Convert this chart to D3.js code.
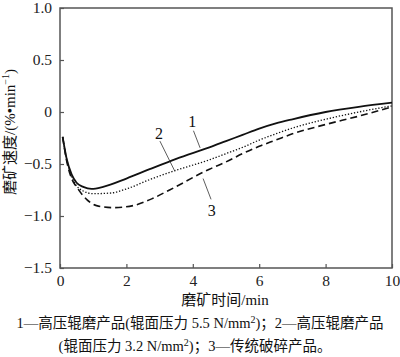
<!DOCTYPE html>
<html><head><meta charset="utf-8">
<script src="https://cdn.jsdelivr.net/npm/d3@7"></script>
<style>body{margin:0;background:#fff}svg{display:block}</style>
</head><body>
<svg id="c" width="400" height="357"></svg>
<script>
const xTicks = [0, 2, 4, 6, 8, 10];
const yTicks = [1.0, 0.5, 0, -0.5, -1.0, -1.5];
const yTickLabels = ["1.0", "0.5", "0", "\u22120.5", "\u22121.0", "\u22121.5"];
const series1 = [[0.08,-0.24],[0.2,-0.45],[0.35,-0.6],[0.5,-0.68],[0.7,-0.72],[0.95,-0.74],[1.3,-0.72],[2.0,-0.64],[2.7,-0.55],[3.5,-0.45],[4.5,-0.34],[5.0,-0.28],[5.5,-0.22],[6.0,-0.16],[6.5,-0.11],[7.0,-0.07],[8.0,0.0],[9.0,0.05],[10.0,0.09]];
const series2 = [[0.08,-0.24],[0.2,-0.45],[0.35,-0.62],[0.5,-0.71],[0.7,-0.76],[1.0,-0.785],[1.5,-0.78],[2.0,-0.74],[2.7,-0.65],[3.5,-0.56],[4.5,-0.46],[5.0,-0.40],[5.5,-0.34],[6.0,-0.27],[6.5,-0.21],[7.0,-0.155],[8.0,-0.07],[9.0,0.0],[10.0,0.06]];
const series3 = [[0.08,-0.24],[0.2,-0.47],[0.35,-0.64],[0.5,-0.72],[0.8,-0.84],[1.1,-0.9],[1.6,-0.92],[2.2,-0.9],[2.8,-0.83],[3.3,-0.75],[4.5,-0.55],[5.0,-0.48],[5.5,-0.40],[6.0,-0.33],[6.5,-0.27],[7.0,-0.21],[8.0,-0.12],[9.0,-0.04],[10.0,0.05]];
const seriesNames = ["1", "2", "3"];
const xLabel = "磨矿时间/min";
const yLabel = "磨矿速度/(%•min";
const caption1 = ["1—高压辊磨产品(辊面压力 5.5 N/mm", "2", ")；2—高压辊磨产品"];
const caption2 = ["(辊面压力 3.2 N/mm", "2", ")；3—传统破碎产品。"];

const font = "'Liberation Serif','Times New Roman','Noto Sans CJK SC',serif";
const svg = d3.select("#c");
const L = 60, R = 392, T = 8, B = 268;
const x = d3.scaleLinear().domain([0, 10]).range([L, R]);
const y = d3.scaleLinear().domain([-1.5, 1.0]).range([B, T]);

// frame
svg.append("rect").attr("x", L).attr("y", T).attr("width", R - L).attr("height", B - T)
  .attr("fill", "none").attr("stroke", "#555").attr("stroke-width", 1.5);

// axes with inward ticks
const ax = svg.append("g").attr("transform", `translate(0,${B})`)
  .call(d3.axisBottom(x).tickValues(xTicks).tickSize(-4).tickPadding(7).tickFormat(d3.format("d")));
const ay = svg.append("g").attr("transform", `translate(${L},0)`)
  .call(d3.axisLeft(y).tickValues(yTicks).tickSize(-4).tickPadding(8).tickFormat((d, i) => yTickLabels[i]));
[ax, ay].forEach(g => {
  g.select(".domain").remove();
  g.selectAll(".tick line").attr("stroke", "#555").attr("stroke-width", 1.2);
  g.selectAll(".tick text").attr("font-family", font).attr("font-size", 15.5).attr("fill", "#222");
});

const line = d3.line().x(d => x(d[0])).y(d => y(d[1])).curve(d3.curveMonotoneX);
svg.append("path").datum(series3).attr("d", line).attr("fill", "none").attr("stroke", "#111").attr("stroke-width", 1.6).attr("stroke-dasharray", "7,4");
svg.append("path").datum(series2).attr("d", line).attr("fill", "none").attr("stroke", "#111").attr("stroke-width", 1.3).attr("stroke-dasharray", "1.3,1.8");
svg.append("path").datum(series1).attr("d", line).attr("fill", "none").attr("stroke", "#111").attr("stroke-width", 1.8);

// series labels with leader lines
const labels = [
  {t: seriesNames[0], tx: 3.98, ty: -0.14, x1: 4.02, y1: -0.18, x2: 4.22, y2: -0.345},
  {t: seriesNames[1], tx: 2.98, ty: -0.26, x1: 3.01, y1: -0.28, x2: 3.46, y2: -0.57},
  {t: seriesNames[2], tx: 4.57, ty: -1.0, x1: 4.31, y1: -0.64, x2: 4.55, y2: -0.84}
];
labels.forEach(l => {
  svg.append("line").attr("x1", x(l.x1)).attr("y1", y(l.y1)).attr("x2", x(l.x2)).attr("y2", y(l.y2))
    .attr("stroke", "#333").attr("stroke-width", 0.8);
  svg.append("text").attr("x", x(l.tx)).attr("y", y(l.ty)).attr("text-anchor", "middle")
    .attr("font-family", font).attr("font-size", 16).attr("fill", "#111").text(l.t);
});

// axis titles
svg.append("text").attr("x", 225).attr("y", 305).attr("text-anchor", "middle")
  .attr("font-family", font).attr("font-size", 15).attr("fill", "#111").text(xLabel);
const yt = svg.append("text").attr("transform", "translate(15,132) rotate(-90)").attr("text-anchor", "middle")
  .attr("font-family", font).attr("font-size", 15).attr("fill", "#111");
yt.append("tspan").text(yLabel);
yt.append("tspan").attr("font-size", 10).attr("dy", -6).text("\u22121");
yt.append("tspan").attr("dy", 6).text(")");

// caption
function cap(parts, cx, cy) {
  const t = svg.append("text").attr("x", cx).attr("y", cy).attr("text-anchor", "middle")
    .attr("font-family", font).attr("font-size", 14.5).attr("fill", "#111");
  t.append("tspan").text(parts[0]);
  t.append("tspan").attr("font-size", 10).attr("dy", -5).text(parts[1]);
  t.append("tspan").attr("dy", 5).text(parts[2]);
}
cap(caption1, 200, 328);
cap(caption2, 195, 351);
</script>
</body></html>
